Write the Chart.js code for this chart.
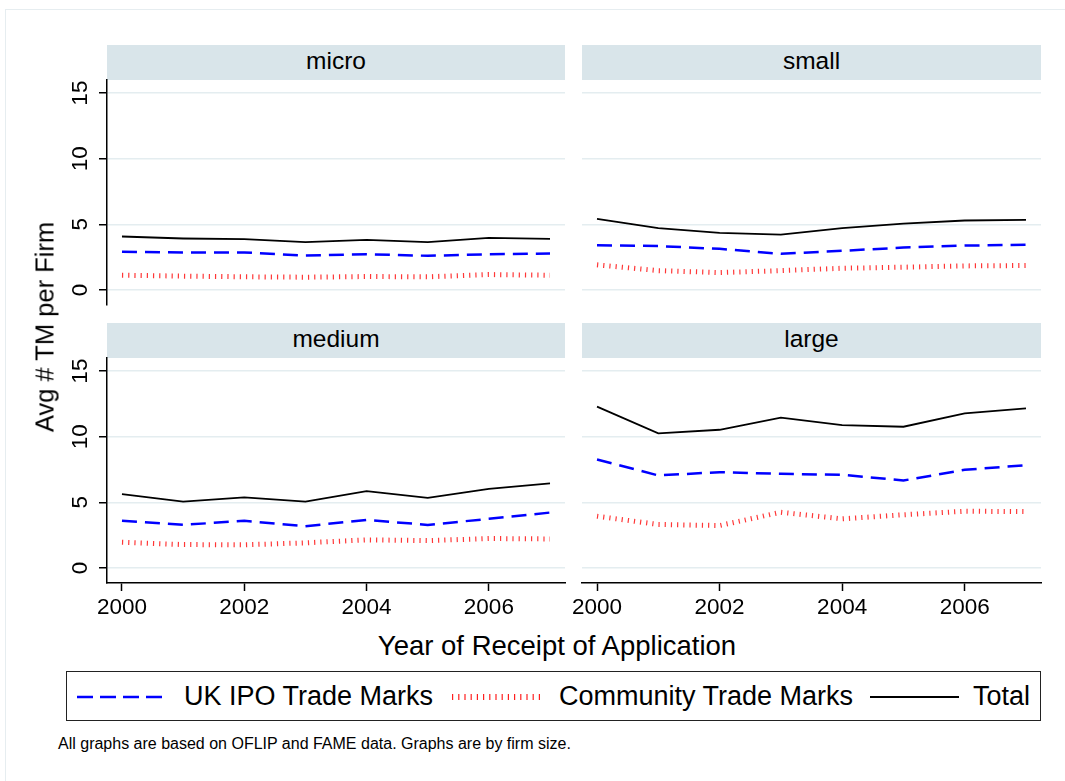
<!DOCTYPE html>
<html>
<head>
<title>Avg # TM per Firm by firm size</title>
<script src="https://cdn.jsdelivr.net/npm/chart.js"></script>
<style>
    body { margin: 0; background: #fff; font-family: "Liberation Sans", Arial, Helvetica, sans-serif; color: #000; }
    #page { position: relative; width: 1065px; height: 781px; overflow: hidden; background: #fff; }
    .frame { position: absolute; left: 5px; top: 9px; width: 1100px; height: 800px; border-left: 1px solid #e6edf0; border-top: 1px solid #e6edf0; }
    .strip { position: absolute; height: 35px; line-height: 32px; background: #d9e5ea; text-align: center; font-size: 24.5px; }
    .panel { position: absolute; }
    .ytitle { position: absolute; left: 45px; top: 327px; font-size: 25.5px; white-space: nowrap; transform: translate(-50%, -50%) rotate(-90deg); }
    .xtitle { position: absolute; left: 557px; top: 646px; font-size: 27.5px; white-space: nowrap; transform: translate(-50%, -50%); }
    #legend { position: absolute; left: 66px; top: 671px; width: 973px; height: 48px; border: 1.5px solid #222; }
    .key { position: absolute; top: 20px; }
    .ltext { position: absolute; top: 0; line-height: 48px; font-size: 27px; white-space: nowrap; }
    .note { position: absolute; left: 58px; top: 735px; font-size: 16px; white-space: nowrap; }
</style>
</head>
<body>
<div id="page">
    <div class="frame"></div>

    <div class="strip" style="left:107px; top:45px; width:458px;">micro</div>
    <div class="strip" style="left:582px; top:45px; width:459px;">small</div>
    <div class="strip" style="left:107px; top:323px; width:458px;">medium</div>
    <div class="strip" style="left:582px; top:323px; width:459px;">large</div>

    <div class="panel" style="left:40px; top:58px; width:528px; height:269px;"><canvas id="micro"></canvas></div>
    <div class="panel" style="left:560px; top:58px; width:484px; height:269px;"><canvas id="small"></canvas></div>
    <div class="panel" style="left:40px; top:336px; width:528px; height:289px;"><canvas id="medium"></canvas></div>
    <div class="panel" style="left:560px; top:336px; width:484px; height:289px;"><canvas id="large"></canvas></div>

    <div class="ytitle">Avg # TM per Firm</div>
    <div class="xtitle">Year of Receipt of Application</div>

    <div id="legend">
        <svg class="key" style="left:10px;" width="86" height="10"><line x1="0" y1="5" x2="86" y2="5" stroke="#0000ff" stroke-width="2.5" stroke-dasharray="16 7"/></svg>
        <div class="ltext" style="left:117px;">UK IPO Trade Marks</div>
        <svg class="key" style="left:385px;" width="89" height="10"><line x1="0" y1="5" x2="89" y2="5" stroke="#ff2020" stroke-width="6" stroke-dasharray="1.2 5"/></svg>
        <div class="ltext" style="left:492px;">Community Trade Marks</div>
        <svg class="key" style="left:803px;" width="89" height="10"><line x1="0" y1="5" x2="89" y2="5" stroke="#000" stroke-width="1.8"/></svg>
        <div class="ltext" style="left:906px;">Total</div>
    </div>

    <div class="note">All graphs are based on OFLIP and FAME data. Graphs are by firm size.</div>
</div>

<script>
    const years = [2000, 2001, 2002, 2003, 2004, 2005, 2006, 2007];
    const xTicks = [2000, 2002, 2004, 2006];
    const yTicks = [0, 5, 10, 15];

    // micro
    const ukMicro = [2.90, 2.86, 2.86, 2.62, 2.72, 2.60, 2.72, 2.77];
    const ctmMicro = [1.12, 1.05, 1.00, 0.97, 1.02, 1.00, 1.17, 1.12];
    const totalMicro = [4.07, 3.92, 3.87, 3.64, 3.82, 3.64, 3.97, 3.89];

    // small
    const ukSmall = [3.41, 3.34, 3.13, 2.75, 2.98, 3.23, 3.38, 3.44];
    const ctmSmall = [1.91, 1.47, 1.32, 1.47, 1.65, 1.73, 1.83, 1.86];
    const totalSmall = [5.42, 4.71, 4.35, 4.22, 4.71, 5.06, 5.29, 5.34];

    // medium
    const ukMedium = [3.59, 3.28, 3.59, 3.18, 3.66, 3.28, 3.74, 4.22];
    const ctmMedium = [1.95, 1.78, 1.76, 1.91, 2.14, 2.08, 2.24, 2.21];
    const totalMedium = [5.62, 5.06, 5.37, 5.06, 5.85, 5.34, 6.03, 6.44];

    // large
    const ukLarge = [8.26, 7.05, 7.30, 7.17, 7.10, 6.66, 7.48, 7.83];
    const ctmLarge = [3.94, 3.31, 3.23, 4.24, 3.74, 4.05, 4.32, 4.29];
    const totalLarge = [12.29, 10.25, 10.53, 11.45, 10.89, 10.76, 11.78, 12.16];

    const fontFamily = '"Liberation Sans", Arial, Helvetica, sans-serif';
    const gridColor = '#e4edf0';

    function pts(values) {
        return values.map((v, i) => ({ x: years[i], y: v }));
    }

    function makeChart(id, uk, ctm, total, leftAxis, bottomAxis) {
        const ctx = document.getElementById(id).getContext('2d');
        new Chart(ctx, {
            type: 'line',
            data: {
                datasets: [
                    { label: 'UK IPO Trade Marks', data: pts(uk), borderColor: '#0000ff', borderWidth: 2.5, borderDash: [15, 8], pointRadius: 0, tension: 0 },
                    { label: 'Community Trade Marks', data: pts(ctm), borderColor: 'rgba(255,32,32,0.9)', borderWidth: 5, borderDash: [1.2, 5], pointRadius: 0, tension: 0 },
                    { label: 'Total', data: pts(total), borderColor: '#000', borderWidth: 1.8, pointRadius: 0, tension: 0 }
                ]
            },
            options: {
                responsive: true,
                maintainAspectRatio: false,
                animation: false,
                layout: { padding: { top: 22, right: 3, bottom: bottomAxis ? 2 : 22, left: 0 } },
                plugins: { legend: { display: false }, tooltip: { enabled: false } },
                scales: {
                    x: {
                        type: 'linear',
                        min: 1999.755,
                        max: 2007.245,
                        display: bottomAxis,
                        afterBuildTicks: s => { s.ticks = xTicks.map(v => ({ value: v })); },
                        afterFit: s => { s.height = bottomAxis ? 40 : 0; },
                        border: { display: true, color: '#000', width: 1.5 },
                        grid: { drawOnChartArea: false, drawTicks: true, tickLength: 8, tickColor: '#000', tickWidth: 1.5 },
                        ticks: { padding: 3, color: '#000', maxRotation: 0, font: { size: 22.5, family: fontFamily }, callback: v => String(v) }
                    },
                    y: {
                        min: -1.15,
                        max: 16,
                        afterBuildTicks: s => { s.ticks = yTicks.map(v => ({ value: v })); },
                        afterFit: s => { s.width = leftAxis ? 67 : 22; },
                        border: { display: leftAxis, color: '#000', width: 1.5 },
                        grid: { color: gridColor, lineWidth: 1.5, drawTicks: leftAxis, tickLength: 8, tickColor: '#000', tickWidth: 1.5 },
                        ticks: { display: leftAxis, minRotation: 90, maxRotation: 90, crossAlign: 'center', padding: 6, color: '#000', font: { size: 22.5, family: fontFamily }, callback: v => String(v) }
                    }
                }
            }
        });
    }

    makeChart('micro', ukMicro, ctmMicro, totalMicro, true, false);
    makeChart('small', ukSmall, ctmSmall, totalSmall, false, false);
    makeChart('medium', ukMedium, ctmMedium, totalMedium, true, true);
    makeChart('large', ukLarge, ctmLarge, totalLarge, false, true);
</script>
</body>
</html>
